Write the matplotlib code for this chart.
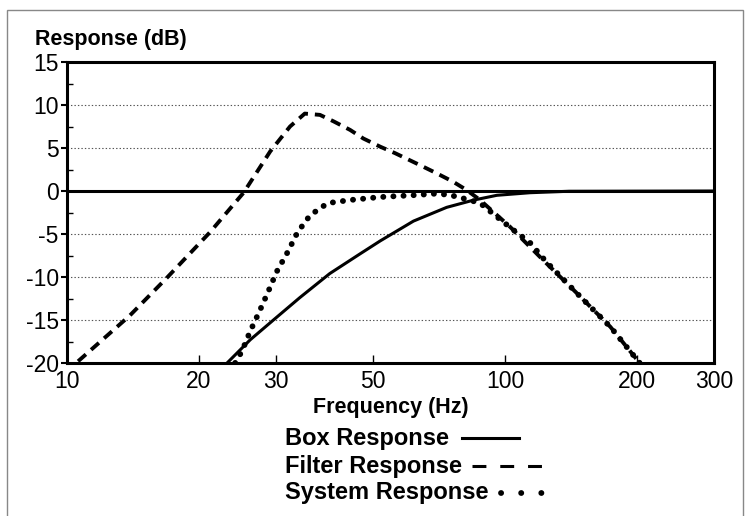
import matplotlib
matplotlib.use("Agg")
import matplotlib.pyplot as plt
from matplotlib.lines import Line2D
from matplotlib.patches import Rectangle
from matplotlib.ticker import FixedLocator, NullFormatter, NullLocator

plt.rcParams['font.family'] = ['Liberation Sans', 'DejaVu Sans']
plt.rcParams['lines.scale_dashes'] = False
plt.rcParams['axes.unicode_minus'] = False

# values (frequency in Hz, response in dB)
box_f = [23.2, 26.2, 29.6, 34.0, 39.8, 46.7, 51.9, 61.8, 73.6, 84.9, 95.8, 114, 140, 300]
box_db = [-20, -17.3, -15.0, -12.4, -9.6, -7.3, -5.8, -3.5, -1.9, -1.05, -0.5, -0.2, -0.03, 0]

filter_f = [10.6, 13.9, 16.9, 21.2, 25.3, 29.1, 32.3, 34.9, 37.8, 40.6,
            44.3, 47.5, 51.9, 56.1, 64, 69.8, 76, 81.8, 87.7, 102.6, 122, 146, 174, 203]
filter_db = [-19.8, -14.5, -10.1, -4.8, -0.2, 4.6, 7.5, 9.0, 8.85, 8.1,
             7.1, 6.1, 5.15, 4.4, 3.0, 2.06, 1.1, 0.1, -1.05, -4.15, -8.0, -11.9, -15.8, -20]

system_f = [24.2, 25.1, 26.2, 27.5, 28.8, 30.1, 31.9, 33.6, 35.8, 37.8, 39.5, 44.3, 52, 62.8,
            69.8, 74.9, 80.2, 87.7, 95.8, 104.3, 114, 124, 146, 174, 203]
system_db = [-20, -18.6, -16.3, -14.0, -11.7, -9.4, -7.1, -4.8, -2.9, -2.0, -1.4, -1.05, -0.7, -0.47,
             -0.3, -0.47, -0.85, -1.4, -3.0, -4.5, -6.0, -8.2, -11.9, -15.8, -20]

x_ticks = [10, 20, 30, 50, 100, 200, 300]
y_ticks = [-20, -15, -10, -5, 0, 5, 10, 15]
grid_db = [-15, -10, -5, 5, 10]

legend_labels = ['Box Response', 'Filter Response', 'System Response']

fig = plt.figure(figsize=(7.47, 5.16), dpi=100)
ax = fig.add_axes([67 / 747, 1 - 363 / 516, 647 / 747, 301 / 516])

ax.set_xscale('log')
ax.set_xlim(10, 300)
ax.set_ylim(-20, 15)

for g in grid_db:
    ax.axhline(g, color='#555555', lw=0.8, ls=(0, (1, 1.5)), zorder=1)
ax.axhline(0, color='black', lw=2.2, zorder=2)

box_style = dict(color='black', lw=2.2, ls='-')
filter_style = dict(color='black', lw=2.8, dashes=(7.5, 5))
system_style = dict(color='black', lw=4.2, dashes=(0.1, 7.2), dash_capstyle='round')

ax.plot(box_f, box_db, zorder=3, **box_style)
ax.plot(filter_f, filter_db, zorder=3, **filter_style)
ax.plot(system_f, system_db, zorder=4, **system_style)

ax.xaxis.set_major_locator(FixedLocator(x_ticks))
ax.xaxis.set_minor_locator(NullLocator())
ax.xaxis.set_minor_formatter(NullFormatter())
ax.set_xticklabels([str(t) for t in x_ticks])
ax.set_yticks(y_ticks)
ax.set_yticks([-17.5, -12.5, -7.5, -2.5, 2.5, 7.5, 12.5], minor=True)
ax.tick_params(axis='x', direction='in', length=6, width=1, labelsize=16.5, pad=5)
ax.tick_params(axis='y', which='major', direction='out', length=4, width=1.5, labelsize=16.5, pad=2)
ax.tick_params(axis='y', which='minor', direction='in', length=4, width=1)
for s in ax.spines.values():
    s.set_linewidth(2.2)

fig.text(35 / 747, 1 - 40 / 516, 'Response (dB)', fontsize=15.5, fontweight='bold',
         ha='left', va='center')
fig.text(391 / 747, 1 - 408 / 516, 'Frequency (Hz)', fontsize=15.5, fontweight='bold',
         ha='center', va='center')

# legend: text followed by a sample line
key_styles = [box_style,
              dict(color='black', lw=2.2, dashes=(10, 10)),
              dict(color='black', lw=4.2, dashes=(0.1, 14.4), dash_capstyle='round')]
key_len = [57, 70, 41]
key_gap = [13, 10, 12]
rows_y = [438, 466, 493]
fig.canvas.draw()
renderer = fig.canvas.get_renderer()
for label, st, ln, gp, yy in zip(legend_labels, key_styles, key_len, key_gap, rows_y):
    t = fig.text(285 / 747, 1 - yy / 516, label, fontsize=17, fontweight='bold',
                 ha='left', va='center')
    bb = t.get_window_extent(renderer)
    x0 = (bb.x1 + gp) / 747
    fig.add_artist(Line2D([x0, x0 + ln / 747], [1 - yy / 516] * 2, transform=fig.transFigure, **st))

fig.add_artist(Rectangle((7 / 747, -0.05), 736 / 747, 1.05 - 10 / 516, transform=fig.transFigure,
                         fill=False, edgecolor='#888888', lw=1))

fig.savefig('out.png', dpi=100)
